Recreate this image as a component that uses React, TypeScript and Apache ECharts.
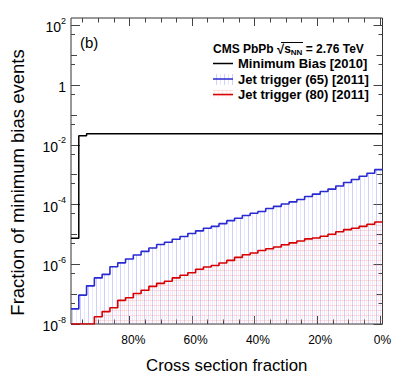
import React, { useEffect, useRef } from 'react';
import * as echarts from 'echarts';

const FONT = '"Liberation Sans", Arial, Helvetica, sans-serif';

// 40 bins of cross-section fraction (2.5 % each), drawn from left to right
const binEdges: number[] = [
  0, 1, 2, 3, 4, 5, 6, 7, 8, 9, 10, 11, 12, 13, 14, 15, 16, 17, 18, 19, 20,
  21, 22, 23, 24, 25, 26, 27, 28, 29, 30, 31, 32, 33, 34, 35, 36, 37, 38, 39, 40,
];

const minimumBias: number[] = [
  7.4e-6, 0.0204, 0.0234, 0.0234, 0.0234, 0.0234, 0.0234, 0.0234, 0.0234, 0.0234,
  0.0234, 0.0234, 0.0234, 0.0234, 0.0234, 0.0234, 0.0234, 0.0234, 0.0234, 0.0234,
  0.0234, 0.0234, 0.0234, 0.0234, 0.0234, 0.0234, 0.0234, 0.0234, 0.0234, 0.0234,
  0.0234, 0.0234, 0.0234, 0.0234, 0.0234, 0.0234, 0.0234, 0.0234, 0.0234, 0.0234,
];

const jetTrigger65: number[] = [
  3.2e-8, 9.3e-8, 1.9e-7, 3.5e-7, 4.6e-7, 8.3e-7, 1.12e-6, 1.51e-6, 2.04e-6, 2.7e-6,
  3.5e-6, 4.6e-6, 5.5e-6, 6.9e-6, 8.5e-6, 1.07e-5, 1.32e-5, 1.62e-5, 1.86e-5, 2.3e-5,
  2.9e-5, 3.5e-5, 4.3e-5, 5.1e-5, 5.9e-5, 7.4e-5, 8.7e-5, 1.05e-4, 1.23e-4, 1.48e-4,
  1.86e-4, 2.24e-4, 2.75e-4, 3.3e-4, 4.2e-4, 5.5e-4, 6.9e-4, 8.9e-4, 1.12e-3, 1.48e-3,
];

const jetTrigger80: number[] = [
  0, 0, 0, 1.74e-8, 2.6e-8, 3.5e-8, 6.2e-8, 7.6e-8, 1.05e-7, 1.35e-7,
  1.82e-7, 2.3e-7, 2.7e-7, 3.5e-7, 4.3e-7, 5.2e-7, 6.8e-7, 8.1e-7, 9.1e-7, 1.1e-6,
  1.35e-6, 1.7e-6, 2.1e-6, 2.4e-6, 2.9e-6, 3.3e-6, 3.8e-6, 4.5e-6, 5.2e-6, 6.0e-6,
  7.1e-6, 7.6e-6, 8.7e-6, 1.02e-5, 1.23e-5, 1.45e-5, 1.62e-5, 1.86e-5, 2.2e-5, 2.6e-5,
];

const seriesNames: string[] = [
  'Minimum Bias [2010]',
  'Jet trigger (65) [2011]',
  'Jet trigger (80) [2011]',
];

// axis ranges and tick labels
const Y_MIN = 1e-8;
const Y_MAX = 178;
const xLabelValues: number[] = [0, 20, 40, 60, 80];
const xMajorTicks: number[] = [0, 20, 40, 60, 80];
const xMinorTicks: number[] = [5, 10, 15, 25, 30, 35, 45, 50, 55, 65, 70, 75, 85, 90, 95];
const X_TICK_MIN = -0.85;
const X_TICK_MAX = 98.7;
const yLabelExponents: number[] = [-8, -6, -4, -2, 0, 2];
const yOddExponents: number[] = [-7, -5, -3, -1, 1];
const yFiveTicks: number[] = [-7.301, -6.301, -5.301, -4.301, -3.301, -2.301, -1.301, -0.301, 0.699, 1.699];

function stepData(values: number[]) {
  return binEdges.map((x, i) => [x, Math.max(values[Math.min(i, values.length - 1)], Y_MIN)]);
}

function makePattern(w: number, h: number, draw: (ctx: CanvasRenderingContext2D) => void) {
  const c = document.createElement('canvas');
  c.width = w;
  c.height = h;
  const ctx = c.getContext('2d') as CanvasRenderingContext2D;
  draw(ctx);
  return c;
}

export default function App() {
  const ref = useRef<HTMLDivElement>(null);

  useEffect(() => {
    document.body.style.margin = '0';
    if (!ref.current) return;
    const chart = echarts.init(ref.current, undefined, { renderer: 'svg' });

    const blueCanvas = makePattern(8, 8, (ctx) => {
      ctx.fillStyle = 'rgba(130,130,245,0.38)';
      ctx.fillRect(0, 0, 1, 8);
      ctx.fillStyle = 'rgba(130,130,245,0.18)';
      ctx.fillRect(4, 0, 1, 8);
    });
    const redCanvas = makePattern(8, 5, (ctx) => {
      ctx.fillStyle = 'rgba(255,140,140,0.3)';
      ctx.fillRect(0, 0, 8, 1);
      ctx.fillStyle = 'rgba(255,140,140,0.16)';
      ctx.fillRect(2, 1, 1, 4);
      ctx.fillRect(6, 1, 1, 4);
    });
    const bluePattern: any = { image: blueCanvas, repeat: 'repeat' };
    const redPattern: any = { image: redCanvas, repeat: 'repeat' };

    const tickColor = '#444';
    const hiddenBase = {
      axisLine: { show: false, onZero: false },
      splitLine: { show: false },
    };
    const xTickAxis = (position: string, values: number[], length: number) => ({
      type: 'value',
      position,
      min: X_TICK_MIN,
      max: X_TICK_MAX,
      inverse: true,
      ...hiddenBase,
      axisLabel: { show: false },
      axisTick: { show: true, inside: true, length, customValues: values, lineStyle: { color: tickColor, width: 1 } },
    });
    const yTickAxis = (position: string, values: number[], length: number) => ({
      type: 'value',
      position,
      min: -8,
      max: Math.log10(Y_MAX),
      ...hiddenBase,
      axisLabel: { show: false },
      axisTick: { show: true, inside: true, length, customValues: values, lineStyle: { color: tickColor, width: 1 } },
    });

    const option: any = {
      animation: false,
      grid: {
        left: 67.5,
        right: 16.5,
        top: 18,
        bottom: 53.5,
        show: true,
        borderColor: '#333',
        borderWidth: 1,
        backgroundColor: 'transparent',
      },
      title: {
        text: '{b|CMS PbPb }{r|\u221A}{b|s}{sub|NN}{b| = 2.76 TeV}',
        left: 213,
        top: 42,
        padding: 0,
        textStyle: {
          rich: {
            b: { fontFamily: FONT, fontWeight: 'bold', fontSize: 12, color: '#000', lineHeight: 14 },
            r: { fontFamily: FONT, fontSize: 13, color: '#000', lineHeight: 14 },
            sub: { fontFamily: FONT, fontWeight: 'bold', fontSize: 8, color: '#000', lineHeight: 14, verticalAlign: 'bottom', padding: [6, 0, 0, 0] },
          },
        },
      },
      legend: {
        left: 213,
        top: 56,
        padding: 0,
        orient: 'vertical',
        icon: 'rect',
        itemWidth: 20,
        itemHeight: 1.5,
        itemGap: 0.5,
        selectedMode: false,
        data: seriesNames,
        textStyle: { fontFamily: FONT, fontWeight: 'bold', fontSize: 13, color: '#000', lineHeight: 15 },
      },
      graphic: [
        { type: 'rect', z: 1, shape: { x: 213, y: 74, width: 20, height: 11 }, style: { fill: bluePattern } },
        { type: 'rect', z: 1, shape: { x: 213, y: 89.5, width: 20, height: 9 }, style: { fill: redPattern } },
        { type: 'text', left: 80, top: 35, style: { text: '(b)', fontFamily: FONT, fontSize: 15, fill: '#000' } },
        { type: 'line', shape: { x1: 281, y1: 42.5, x2: 303, y2: 42.5 }, style: { stroke: '#000', lineWidth: 1 } },
      ],
      xAxis: [
        { type: 'value', min: 0, max: 40, show: false, axisLine: { onZero: false } },
        {
          type: 'value',
          position: 'bottom',
          min: 0,
          max: 100,
          inverse: true,
          ...hiddenBase,
          axisTick: { show: false },
          axisLabel: {
            customValues: xLabelValues,
            formatter: (v: number) => `${v}%`,
            margin: 10,
            fontFamily: FONT,
            fontSize: 12,
            color: '#000',
          },
          name: 'Cross section fraction',
          nameLocation: 'middle',
          nameGap: 33,
          nameTextStyle: { fontFamily: FONT, fontSize: 16.8, color: '#000' },
        },
        xTickAxis('bottom', xMajorTicks, 8),
        xTickAxis('bottom', xMinorTicks, 4.5),
        xTickAxis('top', xMajorTicks, 8),
        xTickAxis('top', xMinorTicks, 4.5),
      ],
      yAxis: [
        { type: 'log', logBase: 10, min: Y_MIN, max: Y_MAX, show: false, axisLine: { onZero: false } },
        {
          type: 'value',
          position: 'left',
          min: -8,
          max: Math.log10(Y_MAX),
          ...hiddenBase,
          axisTick: { show: true, inside: true, length: 9, customValues: yLabelExponents, lineStyle: { color: tickColor, width: 1 } },
          axisLabel: {
            customValues: yLabelExponents,
            margin: 5,
            formatter: (v: number) => (v === 0 ? '{b|1}' : `{b|10}{s|${v}}`),
            rich: {
              b: { fontFamily: FONT, fontSize: 14, color: '#000', lineHeight: 18, verticalAlign: 'bottom' },
              s: { fontFamily: FONT, fontSize: 9, color: '#000', lineHeight: 18, verticalAlign: 'top' },
            },
          },
          name: 'Fraction of minimum bias events',
          nameLocation: 'middle',
          nameGap: 44,
          nameTextStyle: { fontFamily: FONT, fontSize: 18.5, color: '#000', padding: [0, 23, 0, 0] },
        },
        yTickAxis('left', yOddExponents, 6),
        yTickAxis('left', yFiveTicks, 4),
        yTickAxis('right', yLabelExponents, 9),
        yTickAxis('right', yOddExponents, 6),
        yTickAxis('right', yFiveTicks, 4),
      ],
      series: [
        {
          name: seriesNames[1],
          type: 'line',
          step: 'end',
          xAxisIndex: 0,
          yAxisIndex: 0,
          data: stepData(jetTrigger65),
          symbol: 'none',
          color: '#2a2ad2',
          itemStyle: { color: '#2a2ad2' },
          lineStyle: { color: '#2a2ad2', width: 1.6 },
          areaStyle: { color: bluePattern, origin: Y_MIN, opacity: 1 },
          z: 2,
        },
        {
          name: seriesNames[2],
          type: 'line',
          step: 'end',
          xAxisIndex: 0,
          yAxisIndex: 0,
          data: stepData(jetTrigger80),
          symbol: 'none',
          color: '#d80000',
          itemStyle: { color: '#d80000' },
          lineStyle: { color: '#d80000', width: 1.6 },
          areaStyle: { color: redPattern, origin: Y_MIN, opacity: 1 },
          z: 3,
        },
        {
          name: seriesNames[0],
          type: 'line',
          step: 'end',
          xAxisIndex: 0,
          yAxisIndex: 0,
          data: stepData(minimumBias),
          symbol: 'none',
          color: '#000',
          itemStyle: { color: '#000' },
          lineStyle: { color: '#000', width: 1.5 },
          z: 4,
        },
      ],
    };

    chart.setOption(option);
    return () => chart.dispose();
  }, []);

  return <div ref={ref} style={{ width: 399, height: 379 }} />;
}
